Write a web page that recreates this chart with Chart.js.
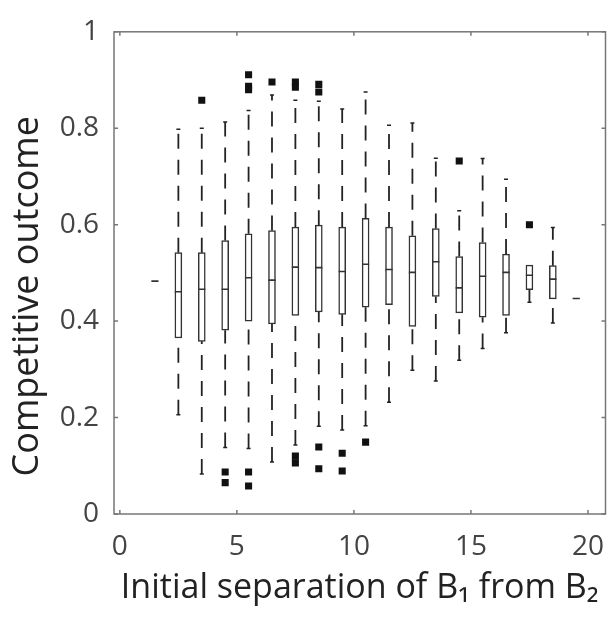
<!DOCTYPE html>
<html>
<head>
<meta charset="utf-8">
<script src="https://cdn.jsdelivr.net/npm/chart.js@4/dist/chart.umd.min.js"></script>
<style>
  html, body { margin: 0; padding: 0; background: #fff; }
  #wrap { width: 608px; height: 617px; }
</style>
</head>
<body>
<div id="wrap"><canvas id="myChart" width="608" height="617"></canvas></div>
<script>
// box positions (initial separation)
const positions   = [1.5, 2.5, 3.5, 4.5, 5.5, 6.5, 7.5, 8.5, 9.5, 10.5, 11.5, 12.5, 13.5, 14.5, 15.5, 16.5, 17.5, 18.5, 19.5];
const whiskerHigh = [0.483, 0.798, 0.800, 0.813, 0.837, 0.869, 0.858, 0.856, 0.840, 0.875, 0.806, 0.811, 0.738, 0.629, 0.737, 0.694, 0.516, 0.594, 0.447];
const q3          = [0.483, 0.542, 0.542, 0.567, 0.581, 0.588, 0.595, 0.599, 0.595, 0.613, 0.595, 0.577, 0.592, 0.534, 0.563, 0.539, 0.516, 0.515, 0.447];
const medians     = [0.483, 0.461, 0.466, 0.466, 0.490, 0.485, 0.512, 0.511, 0.503, 0.518, 0.507, 0.501, 0.523, 0.469, 0.493, 0.501, 0.495, 0.487, 0.447];
const q1          = [0.483, 0.365, 0.358, 0.381, 0.400, 0.394, 0.412, 0.419, 0.414, 0.429, 0.434, 0.389, 0.451, 0.417, 0.408, 0.412, 0.465, 0.446, 0.447];
const whiskerLow  = [0.483, 0.206, 0.083, 0.138, 0.136, 0.108, 0.143, 0.182, 0.174, 0.183, 0.232, 0.298, 0.276, 0.319, 0.343, 0.376, 0.439, 0.396, 0.447];

// outliers
const outlierPos = [3.5, 4.5, 4.5, 5.5, 5.5, 5.5, 5.5, 5.5, 6.5, 7.5, 7.5, 7.5, 7.5, 8.5, 8.5, 8.5, 8.5, 9.5, 9.5, 10.5, 14.5, 17.5];
const outlierVal = [0.858, 0.087, 0.065, 0.911, 0.887, 0.880, 0.087, 0.058, 0.896, 0.896, 0.885, 0.120, 0.106, 0.891, 0.875, 0.139, 0.094, 0.126, 0.089, 0.149, 0.732, 0.600];

// ticks
const xTicks = [0, 5, 10, 15, 20];
const yTicks = [0, 0.2, 0.4, 0.6, 0.8, 1];
const yTickLabels = ["0", "0.2", "0.4", "0.6", "0.8", "1"];

const FONT = "'Open Sans', 'Noto Sans', sans-serif";
const AXIS_COLOR = "#777";

// whisker segments, drawn bottom to top, broken with nulls
const whiskerData = [];
positions.forEach((x, i) => {
  if (whiskerLow[i] < q1[i]) {
    whiskerData.push({ x: x, y: whiskerLow[i] }, { x: x, y: q1[i] }, { x: x, y: null });
  }
  if (whiskerHigh[i] > q3[i]) {
    whiskerData.push({ x: x, y: q3[i] }, { x: x, y: whiskerHigh[i] }, { x: x, y: null });
  }
});

const capData = [];
positions.forEach((x, i) => {
  if (whiskerLow[i] < q1[i]) capData.push({ x: x, y: whiskerLow[i] });
  if (whiskerHigh[i] > q3[i]) capData.push({ x: x, y: whiskerHigh[i] });
});

// frame on all four sides with inward ticks
const frameTicks = {
  id: "frameTicks",
  afterDraw(chart) {
    const ctx = chart.ctx;
    const a = chart.chartArea;
    const xs = chart.scales.x;
    const ys = chart.scales.y;
    const len = 4;
    ctx.save();
    ctx.strokeStyle = AXIS_COLOR;
    ctx.lineWidth = 1.5;
    ctx.strokeRect(a.left, a.top, a.right - a.left, a.bottom - a.top);
    ctx.beginPath();
    xTicks.forEach((v) => {
      const px = xs.getPixelForValue(v);
      ctx.moveTo(px, a.bottom);
      ctx.lineTo(px, a.bottom - len);
      ctx.moveTo(px, a.top);
      ctx.lineTo(px, a.top + len);
    });
    yTicks.forEach((v) => {
      const py = ys.getPixelForValue(v);
      ctx.moveTo(a.left, py);
      ctx.lineTo(a.left + len, py);
      ctx.moveTo(a.right, py);
      ctx.lineTo(a.right - len, py);
    });
    ctx.stroke();
    ctx.restore();
  },
};

const ctx = document.getElementById("myChart").getContext("2d");
const chart = new Chart(ctx, {
  type: "bar",
  data: {
    datasets: [
      {
        // boxes
        type: "bar",
        data: positions.map((x, i) => ({ x: x, y: [q1[i], q3[i]] })),
        backgroundColor: "#fff",
        borderColor: "#333",
        borderWidth: 1.5,
        borderSkipped: false,
        barThickness: 7,
        order: 4,
      },
      {
        // whiskers
        type: "line",
        data: whiskerData,
        borderColor: "#222",
        borderWidth: 1.8,
        borderDash: [15, 11],
        pointRadius: 0,
        spanGaps: false,
        fill: false,
        order: 3,
      },
      {
        // whisker caps
        type: "line",
        data: capData,
        showLine: false,
        pointStyle: "line",
        pointRadius: 2,
        pointBorderWidth: 1.5,
        pointBorderColor: "#222",
        order: 2,
      },
      {
        // outliers
        type: "line",
        data: outlierPos.map((x, i) => ({ x: x, y: outlierVal[i] })),
        showLine: false,
        pointStyle: "rect",
        pointRadius: 5,
        pointBorderWidth: 0,
        pointBackgroundColor: "#111",
        pointBorderColor: "#111",
        order: 1,
      },
      {
        // medians
        type: "line",
        data: positions.map((x, i) => ({ x: x, y: medians[i] })),
        showLine: false,
        pointStyle: "line",
        pointRadius: 3.6,
        pointBorderWidth: 1.6,
        pointBorderColor: "#333",
        order: 0,
      },
    ],
  },
  options: {
    responsive: false,
    animation: false,
    events: [],
    layout: { autoPadding: false, padding: { top: 21, right: 2.5, left: 0, bottom: 0 } },
    plugins: {
      legend: { display: false },
      tooltip: { enabled: false },
    },
    scales: {
      x: {
        type: "linear",
        position: "bottom",
        min: -0.25,
        max: 20.75,
        offset: false,
        grid: { display: false, drawTicks: false },
        border: { display: false },
        afterBuildTicks: (s) => { s.ticks = xTicks.map((v) => ({ value: v })); },
        afterFit: (s) => {
          s.height = 103;
          // keep the plot area full width, labels fit anyway
          s.paddingLeft = 0;
          s.paddingRight = 0;
        },
        ticks: {
          padding: 16,
          color: "#444",
          font: { family: FONT, size: 28 },
          maxRotation: 0,
        },
        title: {
          display: true,
          text: "Initial separation of B\u2081 from B\u2082",
          color: "#222",
          font: { family: FONT, size: 34 },
          padding: { top: 0, bottom: 8 },
        },
      },
      y: {
        type: "linear",
        min: 0,
        max: 1,
        grid: { display: false, drawTicks: false },
        border: { display: false },
        afterBuildTicks: (s) => { s.ticks = yTicks.map((v) => ({ value: v })); },
        afterFit: (s) => { s.width = 114; },
        ticks: {
          padding: 15,
          color: "#444",
          font: { family: FONT, size: 28 },
          callback: (v, i) => yTickLabels[i],
        },
        title: {
          display: true,
          // trailing spaces move the centred label down a little, as in the original
          text: "Competitive outcome     ",
          color: "#222",
          font: { family: FONT, size: 36 },
          padding: { top: 6, bottom: 0 },
        },
      },
    },
  },
  plugins: [frameTicks],
});
</script>
</body>
</html>
